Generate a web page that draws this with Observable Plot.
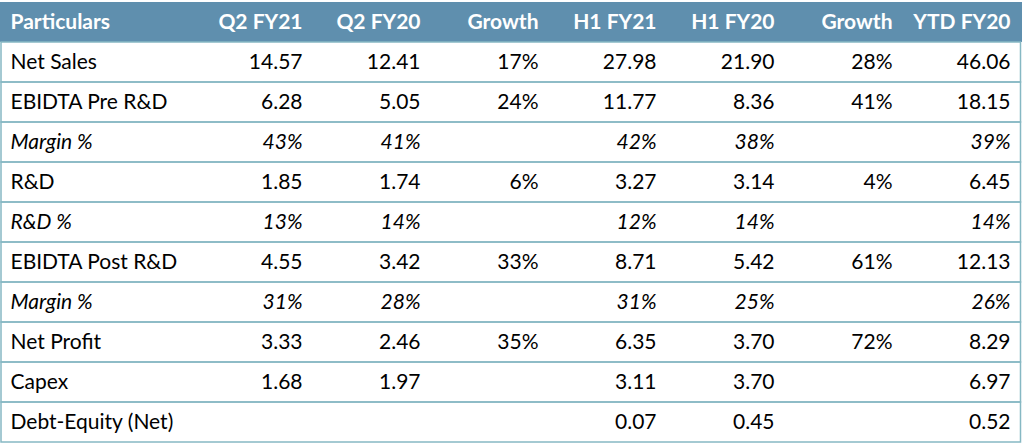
<!DOCTYPE html>
<html>
<head>
<meta charset="utf-8">
<script src="https://cdn.jsdelivr.net/npm/d3@7"></script>
<script src="https://cdn.jsdelivr.net/npm/@observablehq/plot@0.6"></script>
<style>
  html, body { margin: 0; padding: 0; background: #fff; }
  #chart svg { display: block; }
</style>
</head>
<body>
<div id="chart"></div>
<script>
const headers = ["Q2 FY21", "Q2 FY20", "Growth", "H1 FY21", "H1 FY20", "Growth", "YTD FY20"];
const particulars = ["Net Sales", "EBIDTA Pre R&D", "Margin %", "R&D", "R&D %", "EBIDTA Post R&D", "Margin %", "Net Profit", "Capex", "Debt-Equity (Net)"];
const italicRows = [false, false, true, false, true, false, true, false, false, false];
const q2fy21 = ["14.57", "6.28", "43%", "1.85", "13%", "4.55", "31%", "3.33", "1.68", ""];
const q2fy20 = ["12.41", "5.05", "41%", "1.74", "14%", "3.42", "28%", "2.46", "1.97", ""];
const q2growth = ["17%", "24%", "", "6%", "", "33%", "", "35%", "", ""];
const h1fy21 = ["27.98", "11.77", "42%", "3.27", "12%", "8.71", "31%", "6.35", "3.11", "0.07"];
const h1fy20 = ["21.90", "8.36", "38%", "3.14", "14%", "5.42", "25%", "3.70", "3.70", "0.45"];
const h1growth = ["28%", "41%", "", "4%", "", "61%", "", "72%", "", ""];
const ytdfy20 = ["46.06", "18.15", "39%", "6.45", "14%", "12.13", "26%", "8.29", "6.97", "0.52"];

const valueColumns = [q2fy21, q2fy20, q2growth, h1fy21, h1fy20, h1growth, ytdfy20];

const rows = particulars.map((p, i) => ({row: i, label: p, italic: italicRows[i]}));
const cells = [];
valueColumns.forEach((col, j) => col.forEach((v, i) => {
  if (v !== "") cells.push({row: i, col: j, value: v, italic: italicRows[i]});
}));
const headerCells = headers.map((h, j) => ({row: -1, col: j, value: h}));

const font = "Lato, 'Open Sans', sans-serif";
const fs = 21;

const chart = Plot.plot({
  width: 1022,
  height: 446,
  margin: 0,
  style: {fontFamily: font, background: "#fff"},
  x: {type: "point", domain: d3.range(headers.length), range: [301, 1010], padding: 0, axis: null},
  y: {type: "band", domain: d3.range(-1, particulars.length), range: [0, 444], padding: 0, axis: null},
  marks: [
    Plot.cell([{row: -1}], {y: "row", fill: "#5f8fae", insetLeft: 0, insetRight: 0}),
    Plot.cell(rows, {y: "row", fill: "none", stroke: "#86b8c3", strokeWidth: 1.5, insetLeft: 1, insetRight: 1.5}),
    Plot.text([{row: -1, label: "Particulars"}], {y: "row", text: "label", frameAnchor: "left", dx: 10, fill: "#fff", fontWeight: "bold", fontSize: fs, textAnchor: "start"}),
    Plot.text(headerCells, {x: "col", y: "row", text: "value", textAnchor: "end", fill: "#fff", fontWeight: "bold", fontSize: fs}),
    Plot.text(rows.filter(d => !d.italic), {y: "row", text: "label", frameAnchor: "left", dx: 10, textAnchor: "start", fill: "#000", fontSize: fs}),
    Plot.text(rows.filter(d => d.italic), {y: "row", text: "label", frameAnchor: "left", dx: 10, textAnchor: "start", fill: "#000", fontSize: fs, fontStyle: "italic"}),
    Plot.text(cells.filter(d => !d.italic), {x: "col", y: "row", text: "value", textAnchor: "end", fill: "#000", fontSize: fs}),
    Plot.text(cells.filter(d => d.italic), {x: "col", y: "row", text: "value", textAnchor: "end", fill: "#000", fontSize: fs, fontStyle: "italic"})
  ]
});
document.getElementById("chart").appendChild(chart);
</script>
</body>
</html>
